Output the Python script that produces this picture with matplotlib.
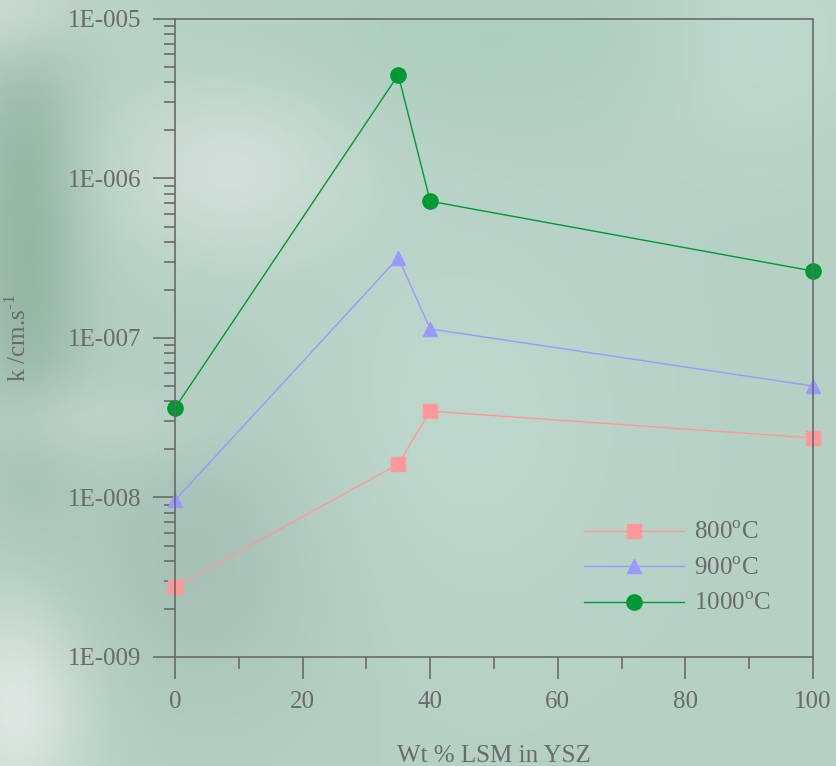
import numpy as np
from matplotlib import pyplot as plt
from matplotlib.ticker import FixedLocator, FuncFormatter, MultipleLocator

plt.rcParams['font.family'] = ['Liberation Serif', 'DejaVu Serif']
plt.rcParams['mathtext.fontset'] = 'custom'
plt.rcParams['mathtext.rm'] = 'Liberation Serif'

# data
wt_lsm = [0, 35, 40, 100]
k_800 = [2.75e-9, 1.62e-8, 3.48e-8, 2.36e-8]
k_900 = [9.6e-9, 3.18e-7, 1.14e-7, 5.0e-8]
k_1000 = [3.64e-8, 4.46e-6, 7.2e-7, 2.63e-7]
labels = ['800$^{\\mathrm{o}}$C', '900$^{\\mathrm{o}}$C', '1000$^{\\mathrm{o}}$C']

grey = '#6a6a6a'

fig = plt.figure(figsize=(8.36, 7.66), dpi=100)

# soft green background
bg = fig.add_axes([0, 0, 1, 1], zorder=-10)
yy, xx = np.mgrid[0:1:200j, 0:1:220j]
base = np.array([0.71, 0.82, 0.77])
img = np.ones((200, 220, 3)) * base
def blob(cx, cy, sx, sy, col, amt):
    w = amt * np.exp(-((xx - cx) ** 2 / (2 * sx ** 2) + (yy - cy) ** 2 / (2 * sy ** 2)))
    return w[..., None] * (np.array(col) - img)
img += blob(0.03, 0.30, 0.05, 0.25, [0.56, 0.70, 0.62], 0.9)
img += blob(0.00, 0.00, 0.08, 0.06, [0.82, 0.87, 0.85], 0.8)
img += blob(0.28, 0.22, 0.10, 0.08, [0.86, 0.89, 0.88], 0.8)
img += blob(0.02, 0.92, 0.06, 0.10, [0.90, 0.92, 0.91], 0.9)
img += blob(0.25, 0.72, 0.12, 0.15, [0.62, 0.73, 0.68], 0.7)
img += blob(0.10, 0.55, 0.12, 0.04, [0.80, 0.85, 0.83], 0.5)
img += blob(0.55, 0.55, 0.15, 0.20, [0.77, 0.86, 0.83], 0.6)
img += blob(0.90, 0.05, 0.10, 0.10, [0.80, 0.88, 0.86], 0.6)
img += blob(0.60, 0.05, 0.20, 0.08, [0.66, 0.80, 0.74], 0.6)
bg.imshow(np.clip(img, 0, 1), aspect='auto', extent=[0, 1, 0, 1], origin='upper')
bg.axis('off')

ax = fig.add_axes([0.2093, 0.1423, 0.7632, 0.8329])
ax.patch.set_alpha(0)

ax.plot(wt_lsm, k_800, color='#ff9999', lw=1, marker='s', ms=10, label=labels[0], clip_on=False)
ax.plot(wt_lsm, k_900, color='#9999ff', lw=1, marker='^', ms=10, label=labels[1], clip_on=False)
ax.plot(wt_lsm, k_1000, color='#009933', lw=1, marker='o', ms=11, label=labels[2], clip_on=False)

ax.set_yscale('log')
ax.set_ylim(1e-9, 1e-5)
ax.set_xlim(0, 100)

ax.yaxis.set_major_locator(FixedLocator([1e-9, 1e-8, 1e-7, 1e-6, 1e-5]))
ax.yaxis.set_major_formatter(FuncFormatter(lambda v, p: '1E-%03d' % round(-np.log10(v))))
ax.xaxis.set_major_locator(MultipleLocator(20))
ax.xaxis.set_minor_locator(MultipleLocator(10))

for s in ax.spines.values():
    s.set_color(grey)
    s.set_linewidth(1.2)
ax.tick_params(which='major', direction='out', length=16, width=1.2, color=grey,
               labelcolor=grey, labelsize=18, pad=8)
ax.tick_params(which='minor', direction='out', length=8, width=1.2, color=grey)
ax.tick_params(axis='x', which='major', length=16, pad=8.5)
ax.tick_params(axis='x', which='minor', length=8.5)

ax.set_xlabel('Wt % LSM in YSZ', color=grey, fontsize=18)
ax.xaxis.set_label_coords(0.5, -0.138)
ax.set_ylabel('k /cm.s$^{\u2010\\mathrm{1}}$', color=grey, fontsize=18)
ax.yaxis.set_label_coords(-0.225, 0.5)

leg = ax.legend(loc='lower right', bbox_to_anchor=(0.97, 0.03), frameon=False,
                fontsize=18, handlelength=4.0, handletextpad=0.4, labelspacing=0.52,
                numpoints=1)
for t in leg.get_texts():
    t.set_color(grey)

fig.savefig('out.png', dpi=100)
